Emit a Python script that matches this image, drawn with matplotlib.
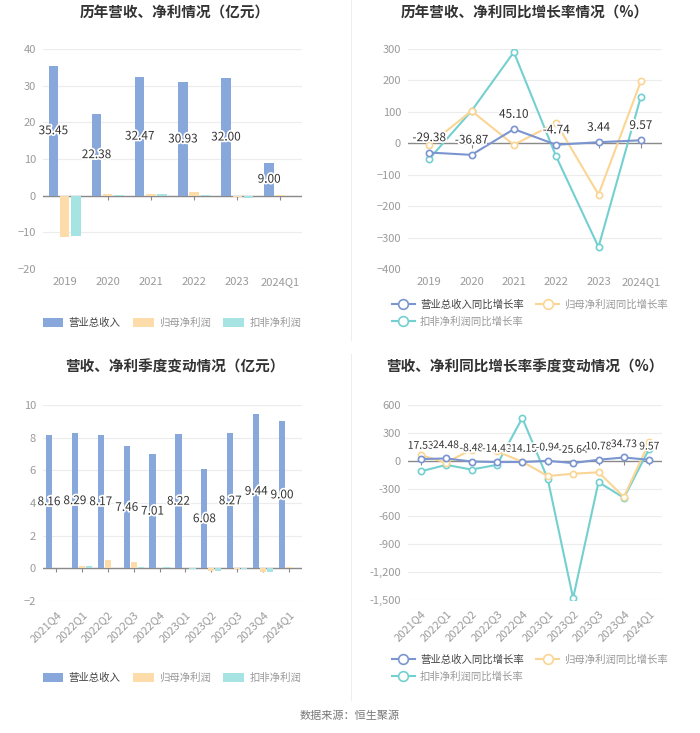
import numpy as np
import matplotlib
matplotlib.use("Agg")
import matplotlib.pyplot as plt
import matplotlib.patheffects as pe
from matplotlib.lines import Line2D
from matplotlib.patches import Patch
from matplotlib.ticker import FuncFormatter

plt.rcParams['font.family'] = ['Noto Sans CJK SC', 'DejaVu Sans']

# annual data
years = ["2019", "2020", "2021", "2022", "2023", "2024Q1"]
rev_y = [35.45, 22.38, 32.47, 30.93, 32.00, 9.00]
net_y = [-11.3, 0.5, 0.5, 1.0, -0.5, 0.05]
ded_y = [-11.0, 0.2, 0.5, 0.3, -0.6, 0.02]
rev_y_g = [-29.38, -36.87, 45.10, -4.74, 3.44, 9.57]
net_y_g = [-5, 103, -5, 65, -163, 197]
ded_y_g = [-50, 103, 290, -42, -330, 148]

# quarterly data
quarters = ["2021Q4", "2022Q1", "2022Q2", "2022Q3", "2022Q4",
            "2023Q1", "2023Q2", "2023Q3", "2023Q4", "2024Q1"]
rev_q = [8.16, 8.29, 8.17, 7.46, 7.01, 8.22, 6.08, 8.27, 9.44, 9.00]
net_q = [0.02, 0.15, 0.50, 0.40, 0.03, 0.05, -0.15, -0.05, -0.20, 0.08]
ded_q = [0.02, 0.12, 0.03, 0.10, 0.10, -0.05, -0.15, -0.05, -0.25, 0.05]
rev_q_g = [17.53, 24.48, -8.48, -14.43, -14.15, -0.94, -25.64, 10.78, 34.73, 9.57]
net_q_g = [60, -20, 120, 100, -10, -165, -140, -125, -390, 200]
ded_q_g = [-115, -45, -95, -45, 460, -195, -1480, -230, -400, 130]

C_REV = "#88a8dc"
C_NET = "#fddcaa"
C_DED = "#a6e3e3"
L_REV = "#7b95d0"
L_NET = "#fbd594"
L_DED = "#74d0d0"
GRID = "#ececec"
TICK = "#9a9a9a"

W, H = 700, 733
fig = plt.figure(figsize=(W / 100, H / 100), dpi=100)


def px_axes(x0, y0, x1, y1):
    return fig.add_axes([x0 / W, 1 - y1 / H, (x1 - x0) / W, (y1 - y0) / H])


def style(ax, cats, ylim, step, rot=0, fmt=None):
    ax.set_xlim(-0.5, len(cats) - 0.5)
    ax.set_ylim(*ylim)
    ax.set_yticks(np.arange(ylim[0], ylim[1] + step / 2, step))
    if fmt:
        ax.yaxis.set_major_formatter(FuncFormatter(fmt))
    ax.set_xticks(range(len(cats)))
    if rot:
        ax.set_xticklabels(cats, rotation=rot, ha="right", rotation_mode="anchor")
    else:
        ax.set_xticklabels(cats)
    for s in ax.spines.values():
        s.set_visible(False)
    ax.tick_params(axis="both", length=0, colors=TICK, labelsize=8)
    ax.tick_params(axis="y", pad=5)
    ax.tick_params(axis="x", pad=6)
    ax.grid(axis="y", color=GRID, linewidth=0.8)
    ax.set_axisbelow(True)
    ax.axhline(0, color="#8a8a8a", linewidth=1, zorder=2)
    # small ticks on zero line
    d = (ylim[1] - ylim[0]) * 0.02
    ax.vlines(range(len(cats)), -d, 0, color="#8a8a8a", linewidth=0.8, zorder=2)


stroke = [pe.withStroke(linewidth=2.5, foreground="white")]


def bars(ax, cats, rev, net, ded, bw, gap):
    x = np.arange(len(cats))
    ax.bar(x - gap, rev, bw, color=C_REV, zorder=3)
    ax.bar(x, net, bw, color=C_NET, zorder=3)
    ax.bar(x + gap, ded, bw, color=C_DED, zorder=3)
    for xi, v in zip(x, rev):
        ax.text(xi - gap, v / 2, f"{v:.2f}", ha="center", va="center",
                fontsize=8.5, color="#333333", path_effects=stroke, zorder=5)


def lines(ax, cats, rev, net, ded, fs=8.5):
    x = np.arange(len(cats))
    kw = dict(marker="o", markersize=4.5, markerfacecolor="white",
              markeredgewidth=1.2, linewidth=1.5, zorder=3)
    ax.plot(x, ded, color=L_DED, **kw)
    ax.plot(x, net, color=L_NET, **kw)
    ax.plot(x, rev, color=L_REV, **kw)
    for xi, v in zip(x, rev):
        ax.annotate(f"{v:.2f}", (xi, v), xytext=(0, 6), textcoords="offset points",
                    ha="center", va="bottom", fontsize=fs, color="#333333",
                    path_effects=stroke, zorder=5)


def bar_legend(cx, cy):
    hs = [Patch(facecolor=c, edgecolor="none") for c in (C_REV, C_NET, C_DED)]
    lg = fig.legend(hs, ["营业总收入", "归母净利润", "扣非净利润"], loc="center",
                    bbox_to_anchor=(cx / W, 1 - cy / H), ncol=3, frameon=False,
                    fontsize=7.5, handlelength=2.0, handleheight=0.9,
                    columnspacing=1.2, handletextpad=0.5)
    for i, t in enumerate(lg.get_texts()):
        t.set_color("#444444" if i == 0 else "#999999")


def line_legend(cx, cy):
    kw = dict(marker="o", markersize=7, markerfacecolor="white",
              markeredgewidth=1.2, linewidth=1.5)
    hs = [Line2D([], [], color=L_REV, **kw),
          Line2D([], [], color=L_DED, **kw),
          Line2D([], [], color=L_NET, **kw)]
    labs = ["营业总收入同比增长率", "扣非净利润同比增长率", "归母净利润同比增长率"]
    lg = fig.legend(hs, labs, loc="center", bbox_to_anchor=(cx / W, 1 - cy / H),
                    ncol=2, frameon=False, fontsize=7.5, handlelength=2.2,
                    columnspacing=1.2, handletextpad=0.5, labelspacing=0.6)
    for i, t in enumerate(lg.get_texts()):
        t.set_color("#444444" if i == 0 else "#999999")


# top-left
ax1 = px_axes(43, 49, 302, 269)
style(ax1, years, (-20, 40), 10)
bars(ax1, years, rev_y, net_y, ded_y, 0.22, 0.26)
fig.text(175 / W, 1 - 13 / H, "历年营收、净利情况（亿元）", ha="center", va="center",
         fontsize=10.5, fontweight="bold", color="#333333")
bar_legend(172, 323)

# top-right
ax2 = px_axes(408, 49, 662, 269)
style(ax2, years, (-400, 300), 100)
lines(ax2, years, rev_y_g, net_y_g, ded_y_g)
fig.text(525 / W, 1 - 13 / H, "历年营收、净利同比增长率情况（%）", ha="center", va="center",
         fontsize=10.5, fontweight="bold", color="#333333")
line_legend(530, 313)

# bottom-left
ax3 = px_axes(43, 405, 302, 601)
style(ax3, quarters, (-2, 10), 2, rot=45)
bars(ax3, quarters, rev_q, net_q, ded_q, 0.24, 0.27)
fig.text(175 / W, 1 - 367 / H, "营收、净利季度变动情况（亿元）", ha="center", va="center",
         fontsize=10.5, fontweight="bold", color="#333333")
bar_legend(172, 678)

# bottom-right
ax4 = px_axes(408, 405, 662, 600)
style(ax4, quarters, (-1500, 600), 300, rot=45, fmt=lambda v, p: f"{v:,.0f}")
lines(ax4, quarters, rev_q_g, net_q_g, ded_q_g, fs=7.5)
fig.text(525 / W, 1 - 367 / H, "营收、净利同比增长率季度变动情况（%）", ha="center", va="center",
         fontsize=10.5, fontweight="bold", color="#333333")
line_legend(530, 668)

# divider
fig.add_artist(Line2D([351 / W, 351 / W], [1 - 0 / H, 1 - 340 / H], color="#eeeeee", linewidth=0.8))
fig.add_artist(Line2D([351 / W, 351 / W], [1 - 354 / H, 1 - 700 / H], color="#eeeeee", linewidth=0.8))

fig.text(350 / W, 1 - 716 / H, "数据来源：恒生聚源", ha="center", va="center",
         fontsize=8, color="#777777")

fig.savefig("out.png", dpi=100, facecolor="white")
